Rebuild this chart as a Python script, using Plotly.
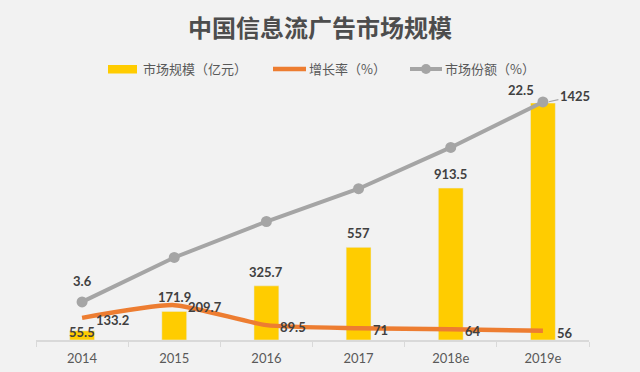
import plotly.graph_objects as go

# ---- data ----
years = ["2014", "2015", "2016", "2017", "2018e", "2019e"]
market_size = [55.5, 171.9, 325.7, 557, 913.5, 1425]      # 市场规模（亿元）
growth_rate = [133.2, 209.7, 89.5, 71, 64, 56]            # 增长率（%）
market_share = [3.6, 7.8, 11.2, 14.3, 18.2, 22.5]         # 市场份额（%）
share_label_idx = [0, 5]                                  # share points carrying a label

title_text = "中国信息流广告市场规模"
legend_names = ["市场规模（亿元）", "增长率（%）", "市场份额（%）"]

# ---- styles ----
BG = "#f2f2f2"
YELLOW = "#FFCC00"
ORANGE = "#ED7D31"
GRAY = "#A5A5A5"
LABEL = "#404040"
AXIS_TXT = "#595959"
NUM_FONT = "Lato"
CJK_FONT = "Noto Sans CJK SC"

W, H = 640, 372
ML, MR, MT, MB = 36, 51, 90, 32
PW, PH = W - ML - MR, H - MT - MB


def px(x):
    return (x - ML) / PW


def py(y):
    return (H - MB - y) / PH


fig = go.Figure()
fig.add_trace(go.Bar(x=years, y=market_size, marker_color=YELLOW, name=legend_names[0],
                     yaxis="y", showlegend=False))
fig.add_trace(go.Scatter(x=years, y=growth_rate, mode="lines", name=legend_names[1],
                         line=dict(color=ORANGE, width=4.5, shape="spline", smoothing=0.55),
                         yaxis="y", showlegend=False))
fig.add_trace(go.Scatter(x=years, y=market_share, mode="lines+markers", name=legend_names[2],
                         line=dict(color=GRAY, width=4), marker=dict(color=GRAY, size=11),
                         yaxis="y2", showlegend=False))

num_font = dict(family=NUM_FONT, size=13, color=LABEL, weight="bold")
ann = []
# bar labels (x given as category index)
for i, v in enumerate(market_size):
    txt = f"{v:g}"
    if i == len(years) - 1:
        ann.append(dict(x=i, y=v, xref="x", yref="y", text=txt, font=num_font,
                        showarrow=True, arrowhead=0, arrowwidth=1.2, arrowcolor=GRAY,
                        ax=32, ay=-7, standoff=6))
    else:
        ann.append(dict(x=i, y=v, xref="x", yref="y", text=txt, font=num_font,
                        showarrow=False, yanchor="middle",
                        yshift=(-1 if i == 0 else 14)))
# growth labels
for i, v in enumerate(growth_rate):
    ann.append(dict(x=i, y=v, xref="x", yref="y", text=f"{v:g}", font=num_font,
                    showarrow=False, xanchor="left", yanchor="middle", xshift=12, yshift=-2))
# share labels
for i in share_label_idx:
    ann.append(dict(x=i, y=market_share[i], xref="x", yref="y2", text=f"{market_share[i]:g}",
                    font=num_font, showarrow=False, yanchor="middle",
                    xshift=(0 if i == 0 else -22), yshift=(21 if i == 0 else 12)))

# custom legend
leg_font = dict(family=CJK_FONT, size=13, color=AXIS_TXT)
LY = 69
shapes = [
    dict(type="rect", xref="paper", yref="paper", x0=px(108), x1=px(137), y0=py(73.5), y1=py(65),
         fillcolor=YELLOW, line=dict(width=0)),
    dict(type="line", xref="paper", yref="paper", x0=px(273), x1=px(306), y0=py(LY), y1=py(LY),
         line=dict(color=ORANGE, width=4.5)),
    dict(type="line", xref="paper", yref="paper", x0=px(410), x1=px(442), y0=py(LY), y1=py(LY),
         line=dict(color=GRAY, width=4)),
    dict(type="circle", xref="paper", yref="paper", x0=px(421), x1=px(431), y0=py(LY + 5), y1=py(LY - 5),
         fillcolor=GRAY, line=dict(width=0)),
]
for xl, name in zip([141, 307, 443], legend_names):
    ann.append(dict(x=px(xl), y=py(LY), xref="paper", yref="paper", text=name, font=leg_font,
                    showarrow=False, xanchor="left", yanchor="middle"))

fig.update_layout(
    width=W, height=H, autosize=False,
    margin=dict(l=ML, r=MR, t=MT, b=MB, autoexpand=False),
    paper_bgcolor=BG, plot_bgcolor=BG,
    bargap=0.73,
    title=dict(text=title_text, x=0.5, xref="container", xanchor="center",
               y=1 - 29 / H, yref="container", yanchor="middle",
               font=dict(family=CJK_FONT, size=24, color="#4d4d4d", weight="bold")),
    xaxis=dict(type="category", categoryorder="array", categoryarray=years,
               range=[-0.5, len(years) - 0.5], automargin=False,
               showline=True, linecolor="#d9d9d9", linewidth=1.5,
               ticks="outside", tickson="boundaries", ticklen=5, tickcolor="#d9d9d9",
               ticklabelstandoff=6,
               tickfont=dict(family=NUM_FONT, size=13, color=AXIS_TXT), showgrid=False),
    yaxis=dict(range=[0, PH / 0.1663], visible=False, showgrid=False, zeroline=False,
               automargin=False),
    yaxis2=dict(range=[0, PH / 10.58], overlaying="y", visible=False, showgrid=False,
                zeroline=False, automargin=False),
    annotations=ann, shapes=shapes, showlegend=False,
)

fig.write_html("out.html",
               config={"displayModeBar": False},
               post_script="document.body.style.margin='0';"
                           "document.body.style.background='" + BG + "';")
